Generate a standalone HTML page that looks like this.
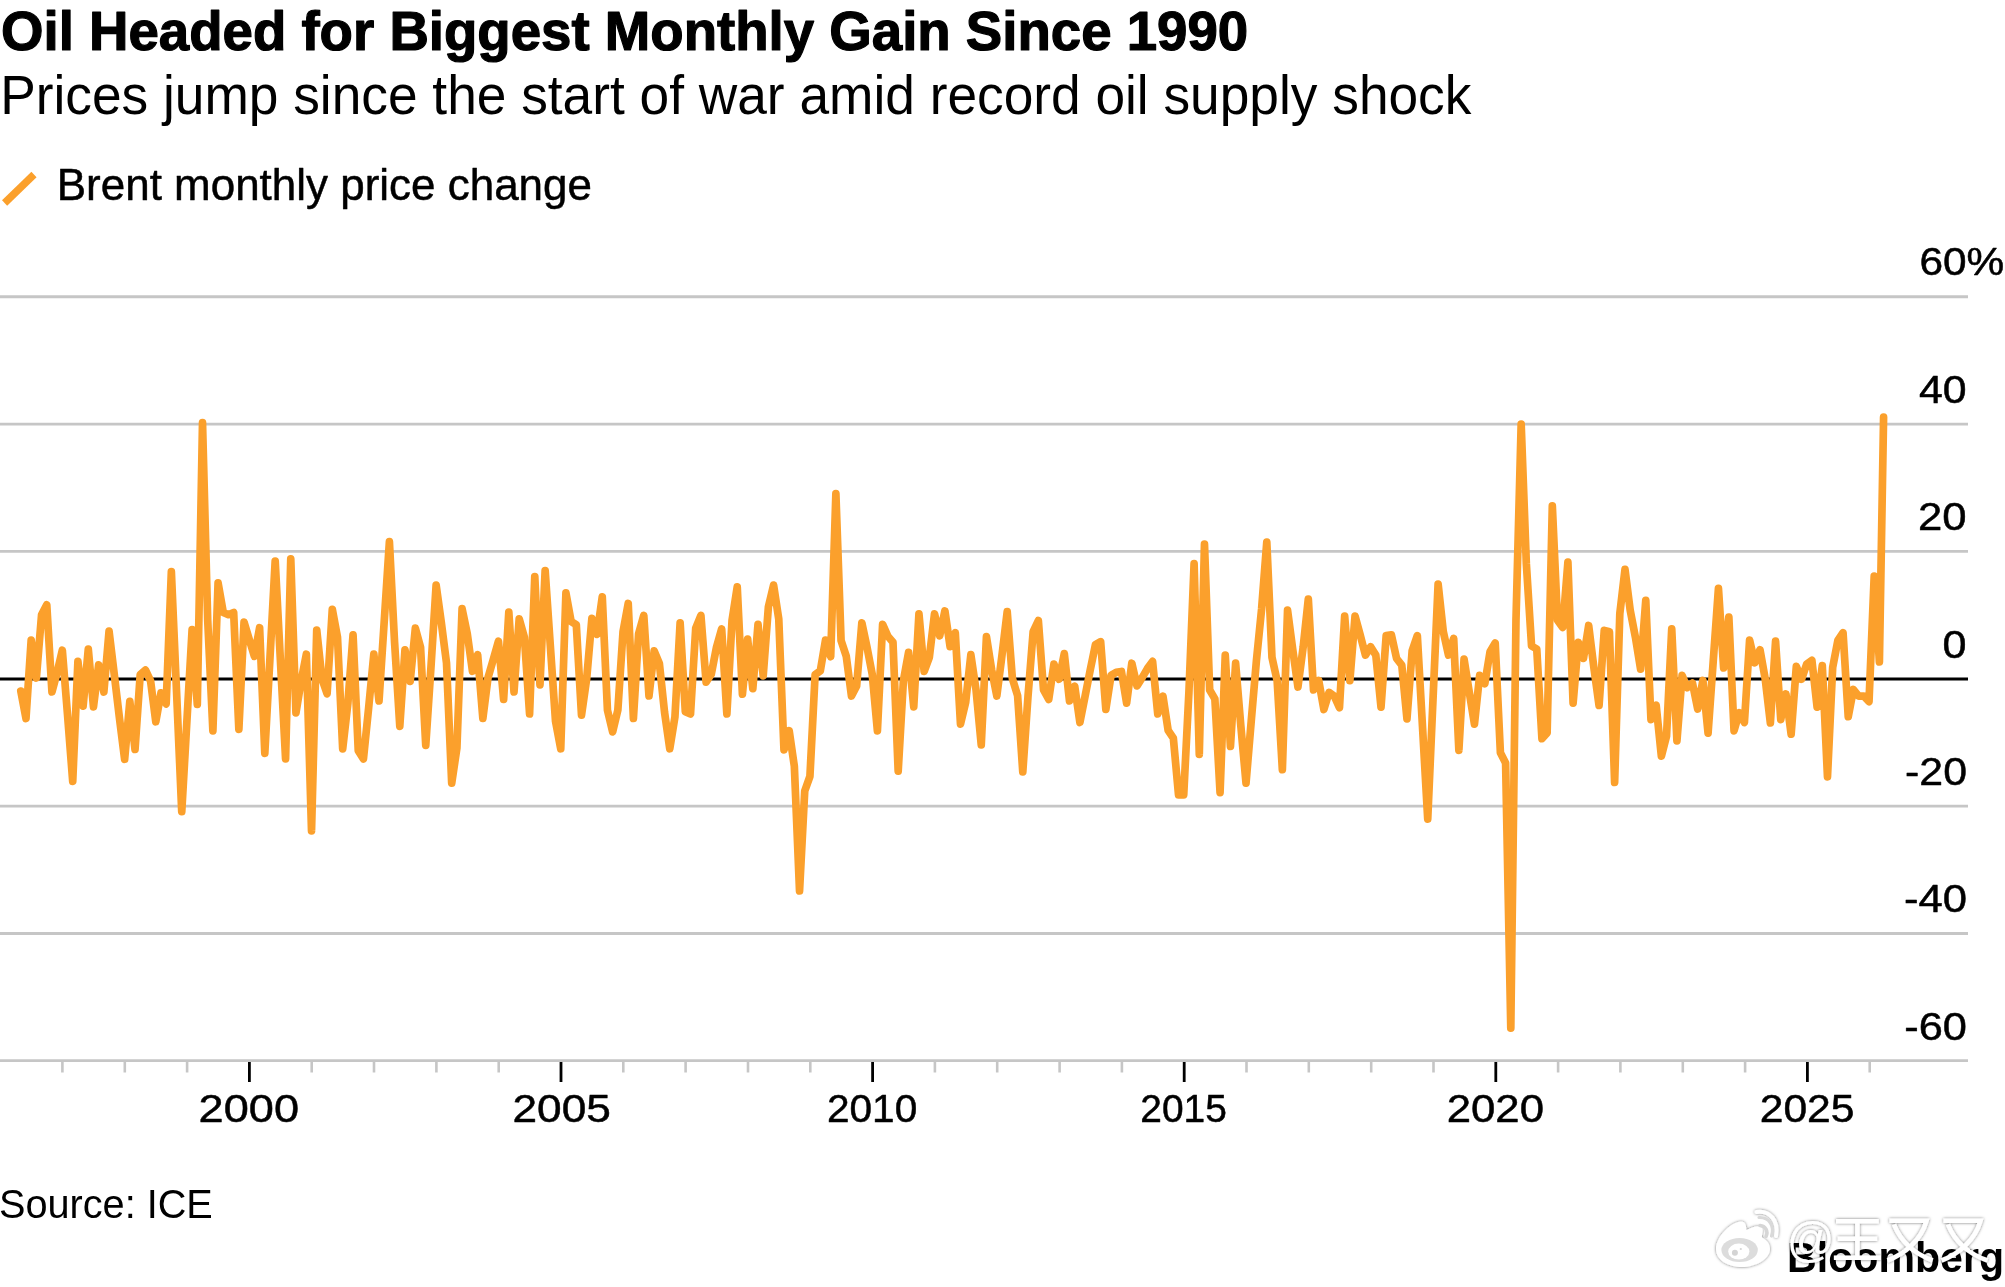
<!DOCTYPE html>
<html><head><meta charset="utf-8"><title>Oil Headed for Biggest Monthly Gain Since 1990</title>
<style>
html,body{margin:0;padding:0;background:#fff;}
body{width:2005px;height:1287px;overflow:hidden;position:relative;font-family:"Liberation Sans",sans-serif;}
svg{position:absolute;left:0;top:0;display:block;}
svg text{font-family:"Liberation Sans",sans-serif;fill:#000;}
svg{will-change:transform;transform:translateZ(0);}
</style></head>
<body>
<svg width="2005" height="1287" viewBox="0 0 2005 1287" >
<line x1="0" x2="1968" y1="296.7" y2="296.7" stroke="#c6c6c6" stroke-width="2.9"/>
<line x1="0" x2="1968" y1="424.1" y2="424.1" stroke="#c6c6c6" stroke-width="2.9"/>
<line x1="0" x2="1968" y1="551.4" y2="551.4" stroke="#c6c6c6" stroke-width="2.9"/>
<line x1="0" x2="1968" y1="806.1" y2="806.1" stroke="#c6c6c6" stroke-width="2.9"/>
<line x1="0" x2="1968" y1="933.5" y2="933.5" stroke="#c6c6c6" stroke-width="2.9"/>
<line x1="0" x2="1968" y1="1060.6" y2="1060.6" stroke="#c6c6c6" stroke-width="2.9"/>
<line x1="62.4" x2="62.4" y1="1061" y2="1072.5" stroke="#c6c6c6" stroke-width="2.6"/>
<line x1="124.8" x2="124.8" y1="1061" y2="1072.5" stroke="#c6c6c6" stroke-width="2.6"/>
<line x1="187.1" x2="187.1" y1="1061" y2="1072.5" stroke="#c6c6c6" stroke-width="2.6"/>
<line x1="249.4" x2="249.4" y1="1062" y2="1082" stroke="#000" stroke-width="2.8"/>
<line x1="311.7" x2="311.7" y1="1061" y2="1072.5" stroke="#c6c6c6" stroke-width="2.6"/>
<line x1="374.0" x2="374.0" y1="1061" y2="1072.5" stroke="#c6c6c6" stroke-width="2.6"/>
<line x1="436.4" x2="436.4" y1="1061" y2="1072.5" stroke="#c6c6c6" stroke-width="2.6"/>
<line x1="498.7" x2="498.7" y1="1061" y2="1072.5" stroke="#c6c6c6" stroke-width="2.6"/>
<line x1="561.0" x2="561.0" y1="1062" y2="1082" stroke="#000" stroke-width="2.8"/>
<line x1="623.3" x2="623.3" y1="1061" y2="1072.5" stroke="#c6c6c6" stroke-width="2.6"/>
<line x1="685.6" x2="685.6" y1="1061" y2="1072.5" stroke="#c6c6c6" stroke-width="2.6"/>
<line x1="748.0" x2="748.0" y1="1061" y2="1072.5" stroke="#c6c6c6" stroke-width="2.6"/>
<line x1="810.3" x2="810.3" y1="1061" y2="1072.5" stroke="#c6c6c6" stroke-width="2.6"/>
<line x1="872.6" x2="872.6" y1="1062" y2="1082" stroke="#000" stroke-width="2.8"/>
<line x1="934.9" x2="934.9" y1="1061" y2="1072.5" stroke="#c6c6c6" stroke-width="2.6"/>
<line x1="997.2" x2="997.2" y1="1061" y2="1072.5" stroke="#c6c6c6" stroke-width="2.6"/>
<line x1="1059.6" x2="1059.6" y1="1061" y2="1072.5" stroke="#c6c6c6" stroke-width="2.6"/>
<line x1="1121.9" x2="1121.9" y1="1061" y2="1072.5" stroke="#c6c6c6" stroke-width="2.6"/>
<line x1="1184.2" x2="1184.2" y1="1062" y2="1082" stroke="#000" stroke-width="2.8"/>
<line x1="1246.5" x2="1246.5" y1="1061" y2="1072.5" stroke="#c6c6c6" stroke-width="2.6"/>
<line x1="1308.8" x2="1308.8" y1="1061" y2="1072.5" stroke="#c6c6c6" stroke-width="2.6"/>
<line x1="1371.2" x2="1371.2" y1="1061" y2="1072.5" stroke="#c6c6c6" stroke-width="2.6"/>
<line x1="1433.5" x2="1433.5" y1="1061" y2="1072.5" stroke="#c6c6c6" stroke-width="2.6"/>
<line x1="1495.8" x2="1495.8" y1="1062" y2="1082" stroke="#000" stroke-width="2.8"/>
<line x1="1558.1" x2="1558.1" y1="1061" y2="1072.5" stroke="#c6c6c6" stroke-width="2.6"/>
<line x1="1620.4" x2="1620.4" y1="1061" y2="1072.5" stroke="#c6c6c6" stroke-width="2.6"/>
<line x1="1682.8" x2="1682.8" y1="1061" y2="1072.5" stroke="#c6c6c6" stroke-width="2.6"/>
<line x1="1745.1" x2="1745.1" y1="1061" y2="1072.5" stroke="#c6c6c6" stroke-width="2.6"/>
<line x1="1807.4" x2="1807.4" y1="1062" y2="1082" stroke="#000" stroke-width="2.8"/>
<line x1="1869.7" x2="1869.7" y1="1061" y2="1072.5" stroke="#c6c6c6" stroke-width="2.6"/>
<line x1="0" x2="1968" y1="679" y2="679" stroke="#000" stroke-width="3"/>
<polyline points="20.8,691.1 25.99,718.5 31.18,640.1 36.37,678.0 41.57,614.7 46.76,604.8 51.95,692.0 57.14,672.4 62.33,650.2 67.52,714.7 72.72,781.4 77.91,661.4 83.1,706.1 88.29,649.1 93.48,706.8 98.67,664.8 103.87,692.0 109.06,631.1 114.25,674.2 119.44,718.0 124.63,759.3 129.82,701.4 135.02,749.5 140.21,674.7 145.4,670.0 150.59,681.0 155.78,721.8 160.97,692.9 166.16,703.9 171.36,571.6 176.55,691.5 181.74,811.7 186.93,720.5 192.12,629.5 197.31,704.5 202.51,422.7 207.7,620 212.89,730.8 218.08,582.8 223.27,612.5 228.46,614.7 233.66,612.5 238.85,729.3 244.04,622.1 249.23,639.4 254.42,656.3 259.61,627.7 264.81,753.3 270.0,657.2 275.19,561.0 280.38,659.9 285.57,758.9 290.76,558.8 295.95,712.9 301.15,681.0 306.34,654.2 311.53,830.9 316.72,630.0 321.91,678.7 327.1,693.8 332.3,609.3 337.49,637.2 342.68,748.8 347.87,703.4 353.06,634.9 358.25,750.6 363.45,758.9 368.64,707.9 373.83,654.2 379.02,701.0 384.21,621.5 389.4,541.7 394.6,642.8 399.79,726.3 404.98,649.8 410.17,681.4 415.36,628.2 420.55,647.3 425.74,745.4 430.94,667.5 436.13,585.1 441.32,622.6 446.51,663.0 451.7,783.1 456.89,748.3 462.09,608.7 467.28,633.8 472.47,671.3 477.66,654.7 482.85,718.5 488.04,677.6 493.24,659.6 498.43,641.2 503.62,699.4 508.81,612.0 514.0,692.0 519.19,618.8 524.39,637.2 529.58,714.0 534.77,576.5 539.96,684.8 545.15,570.5 550.34,645.9 555.53,721.4 560.73,748.8 565.92,592.9 571.11,621.5 576.3,624.8 581.49,715.1 586.68,678.7 591.88,618.3 597.07,634.3 602.26,596.8 607.45,710.2 612.64,731.9 617.83,710.2 623.03,631.6 628.22,603.5 633.41,718.5 638.6,633.8 643.79,615.4 648.98,696.0 654.18,650.9 659.37,663.5 664.56,712.4 669.75,748.8 674.94,716.9 680.13,622.8 685.32,711.7 690.52,714.0 695.71,628.2 700.9,615.4 706.09,682.1 711.28,674.2 716.47,647.3 721.67,628.9 726.86,714.0 732.05,620.3 737.24,586.9 742.43,694.2 747.62,639.0 752.82,688.6 758.01,624.4 763.2,675.8 768.39,606.9 773.58,585.1 778.77,619.2 783.97,749.9 789.16,730.6 794.35,766.3 799.54,891 804.73,791.0 809.92,776.4 815.11,674.7 820.31,670.9 825.5,640.1 830.69,656.7 835.88,493.6 841.07,640.5 846.26,656.3 851.46,696.0 856.65,685.9 861.84,622.8 867.03,647.3 872.22,674.2 877.41,730.8 882.61,624.4 887.8,636.1 892.99,642.3 898.18,771.2 903.37,681.0 908.56,652.4 913.76,706.8 918.95,613.8 924.14,671.3 929.33,657.4 934.52,613.8 939.71,635.8 944.9,610.9 950.1,646.6 955.29,632.7 960.48,724.1 965.67,702.3 970.86,654.7 976.05,690.0 981.25,745.0 986.44,636.7 991.63,669.7 996.82,696.0 1002.01,655.1 1007.2,611.6 1012.4,678.7 1017.59,695.6 1022.78,771.9 1027.97,696.7 1033.16,631.6 1038.35,620.6 1043.55,690.0 1048.74,699.4 1053.93,664.1 1059.12,679.2 1064.31,653.6 1069.5,701.0 1074.69,686.1 1079.89,722.5 1085.08,696.2 1090.27,669.7 1095.46,644.6 1100.65,641.7 1105.84,709.5 1111.04,675.4 1116.23,672.4 1121.42,671.5 1126.61,703.2 1131.8,663.2 1136.99,685.9 1142.19,677.6 1147.38,668.6 1152.57,661.4 1157.76,714.0 1162.95,696.2 1168.14,730.4 1173.34,738.2 1178.53,794.8 1183.72,794.8 1188.91,692.2 1194.1,563.7 1199.29,754.4 1204.48,544.2 1209.68,690.0 1214.87,698.9 1220.06,792.6 1225.25,655.1 1230.44,746.5 1235.63,663.2 1240.83,725.9 1246.02,783.1 1251.21,721.4 1256.4,660.8 1261.59,609.1 1266.78,542.0 1271.98,657.4 1277.17,681.0 1282.36,769.7 1287.55,610.2 1292.74,649.5 1297.93,687.0 1303.13,647.3 1308.32,599.0 1313.51,690.0 1318.7,680.5 1323.89,709.5 1329.08,692.4 1334.27,696.2 1339.47,707.7 1344.66,616.1 1349.85,680.7 1355.04,616.1 1360.23,634.9 1365.42,655.1 1370.62,646.8 1375.81,655.1 1381.0,707.2 1386.19,635.6 1391.38,634.9 1396.57,658.5 1401.77,665.2 1406.96,718.9 1412.15,650.7 1417.34,635.6 1422.53,727.2 1427.72,819.1 1432.92,701.4 1438.11,584.0 1443.3,631.6 1448.49,655.1 1453.68,638.5 1458.87,750.4 1464.06,659.2 1469.26,692.2 1474.45,724.1 1479.64,675.4 1484.83,683.7 1490.02,651.8 1495.21,643.0 1500.41,752.8 1505.6,762.9 1510.79,1028.1 1515.98,620 1521.17,424.2 1526.36,564 1531.56,646 1536.75,649 1541.94,738.7 1547.13,733 1552.32,505.8 1557.51,620.3 1562.71,627.5 1567.9,562.2 1573.09,703.2 1578.28,642.3 1583.47,658.3 1588.66,625.5 1593.85,667.5 1599.05,705.4 1604.24,630.4 1609.43,631.8 1614.62,782.5 1619.81,613.6 1625.0,569.4 1630.2,610.2 1635.39,637.2 1640.58,669.1 1645.77,600.3 1650.96,719.6 1656.15,705.2 1661.35,756.2 1666.54,736.0 1671.73,628.9 1676.92,740.9 1682.11,675.4 1687.3,687.7 1692.5,683.2 1697.69,709.0 1702.88,680.5 1708.07,733.1 1713.26,660.8 1718.45,588.4 1723.64,667.9 1728.84,617.0 1734.03,730.8 1739.22,712.6 1744.41,722.5 1749.6,640.1 1754.79,662.8 1759.99,649.8 1765.18,678.7 1770.37,723.0 1775.56,641.2 1780.75,719.6 1785.94,694.0 1791.14,734.2 1796.33,666.4 1801.52,679.2 1806.71,664.1 1811.9,660.3 1817.09,707.2 1822.29,665.5 1827.48,776.9 1832.67,667.5 1837.86,640.5 1843.05,632.7 1848.24,716.7 1853.43,689.5 1858.63,696.2 1863.82,696.2 1869.01,701.6 1874.2,576.1 1879.39,661.9 1883.58,417.2" fill="none" stroke="#fba02c" stroke-width="7.7" stroke-linejoin="round" stroke-linecap="round"/>
<line x1="4.6" y1="203" x2="34" y2="174.5" stroke="#fba02c" stroke-width="7.4"/>
<text x="1.00" y="50.4" font-size="56.0" font-weight="bold" textLength="1247.20" lengthAdjust="spacingAndGlyphs" id="t_title" stroke="#000" stroke-width="1.2" stroke-linejoin="round">Oil Headed for Biggest Monthly Gain Since 1990</text>
<text x="0.20" y="113.7" font-size="55.0" textLength="1471.20" lengthAdjust="spacingAndGlyphs" id="t_sub">Prices jump since the start of war amid record oil supply shock</text>
<text x="56.80" y="200.1" font-size="43.7" textLength="535.18" lengthAdjust="spacingAndGlyphs" id="t_legend" stroke="#000" stroke-width="0.5" stroke-linejoin="round">Brent monthly price change</text>
<text x="1919.41" y="275.3" font-size="38.7" textLength="84.82" lengthAdjust="spacingAndGlyphs" id="t_y60" stroke="#000" stroke-width="0.5" stroke-linejoin="round">60%</text>
<text x="1918.91" y="402.9" font-size="38.7" textLength="47.68" lengthAdjust="spacingAndGlyphs" id="t_y40" stroke="#000" stroke-width="0.5" stroke-linejoin="round">40</text>
<text x="1918.02" y="530.2" font-size="38.7" textLength="48.61" lengthAdjust="spacingAndGlyphs" id="t_y20" stroke="#000" stroke-width="0.5" stroke-linejoin="round">20</text>
<text x="1942.59" y="657.6" font-size="38.7" textLength="24.01" lengthAdjust="spacingAndGlyphs" id="t_y0" stroke="#000" stroke-width="0.5" stroke-linejoin="round">0</text>
<text x="1905.12" y="784.9" font-size="38.7" textLength="61.88" lengthAdjust="spacingAndGlyphs" id="t_y-20" stroke="#000" stroke-width="0.5" stroke-linejoin="round">-20</text>
<text x="1904.01" y="912.3" font-size="38.7" textLength="63.01" lengthAdjust="spacingAndGlyphs" id="t_y-40" stroke="#000" stroke-width="0.5" stroke-linejoin="round">-40</text>
<text x="1904.31" y="1039.6" font-size="38.7" textLength="62.70" lengthAdjust="spacingAndGlyphs" id="t_y-60" stroke="#000" stroke-width="0.5" stroke-linejoin="round">-60</text>
<text x="-1.02" y="1218.2" font-size="41.4" textLength="213.83" lengthAdjust="spacingAndGlyphs" id="t_source">Source: ICE</text>
<text x="1787.10" y="1271.5" font-size="42" font-weight="bold" textLength="216.93" lengthAdjust="spacingAndGlyphs" id="t_bloom">Bloomberg</text>
<text x="198.63" y="1122.0" font-size="38.7" textLength="100.40" lengthAdjust="spacingAndGlyphs" id="t_x2000" stroke="#000" stroke-width="0.5" stroke-linejoin="round">2000</text>
<text x="512.49" y="1122.0" font-size="38.7" textLength="98.32" lengthAdjust="spacingAndGlyphs" id="t_x2005" stroke="#000" stroke-width="0.5" stroke-linejoin="round">2005</text>
<text x="826.92" y="1122.0" font-size="38.7" textLength="90.31" lengthAdjust="spacingAndGlyphs" id="t_x2010" stroke="#000" stroke-width="0.5" stroke-linejoin="round">2010</text>
<text x="1140.25" y="1122.0" font-size="38.7" textLength="86.58" lengthAdjust="spacingAndGlyphs" id="t_x2015" stroke="#000" stroke-width="0.5" stroke-linejoin="round">2015</text>
<text x="1446.71" y="1122.0" font-size="38.7" textLength="97.26" lengthAdjust="spacingAndGlyphs" id="t_x2020" stroke="#000" stroke-width="0.5" stroke-linejoin="round">2020</text>
<text x="1759.72" y="1122.0" font-size="38.7" textLength="94.82" lengthAdjust="spacingAndGlyphs" id="t_x2025" stroke="#000" stroke-width="0.5" stroke-linejoin="round">2025</text>
<defs>
<filter id="wmsh" x="-10%" y="-20%" width="120%" height="140%">
<feGaussianBlur in="SourceAlpha" stdDeviation="1.5" result="b"/>
<feFlood flood-color="#000" flood-opacity="0.55"/>
<feComposite in2="b" operator="in" result="s"/>
<feMerge><feMergeNode in="s"/><feMergeNode in="SourceGraphic"/></feMerge>
</filter>
</defs>
<g filter="url(#wmsh)" fill="#fff" stroke="none">
<path d="M1716,1249 C1716,1236 1732,1221.5 1741,1221.5 C1746,1221.5 1746,1226 1746.5,1230 C1751,1228 1757,1225 1761,1227 C1764.5,1229.5 1761.5,1234 1762,1237.5 C1767,1240 1770,1244 1770,1249 C1770,1259 1756,1267 1742,1267 C1728,1267 1716,1260 1716,1249 Z"/>
<path d="M1756.5,1212 C1770,1210 1779,1221 1776,1236" fill="none" stroke="#fff" stroke-width="4" stroke-linecap="round"/>
<text x="1786.5" y="1256" font-size="47.5" style="fill:#fff">@</text>
<g fill="none" stroke="#fff" stroke-width="4.6" stroke-linecap="butt" stroke-linejoin="miter">
<path d="M1836,1221.3 H1878.8 M1837.7,1238.8 H1877.2 M1833.9,1257.8 H1881 M1857.4,1221.3 V1257.8"/>
<path d="M1889.4,1220.8 H1926.5 C1921,1240 1905,1254 1887.5,1260.5 M1894,1224.5 C1901,1242 1915,1254 1932.7,1260.5"/>
<path d="M1943.4,1220.8 H1980.5 C1975,1240 1959,1254 1941.5,1260.5 M1948,1224.5 C1955,1242 1969,1254 1987.5,1260.5"/>
</g>
</g>
<g>
<ellipse cx="1739.6" cy="1250" rx="18.2" ry="12" fill="#dcdcdc"/>
<ellipse cx="1738.8" cy="1251.6" rx="10.6" ry="8" fill="#fff"/>
<circle cx="1734.9" cy="1252.7" r="3" fill="#d4d4d4"/>
<circle cx="1740.8" cy="1249" r="1.1" fill="#d4d4d4"/>
<path d="M1760,1225.5 C1765.5,1226 1768.5,1231 1766,1236.5" fill="none" stroke="#d6d6d6" stroke-width="3.6" stroke-linecap="round"/>
<path d="M1759,1217.5 C1769,1217 1775,1226 1771.5,1236" fill="none" stroke="#d9d9d9" stroke-width="3.2" stroke-linecap="round"/>
</g>

</svg>
</body></html>
